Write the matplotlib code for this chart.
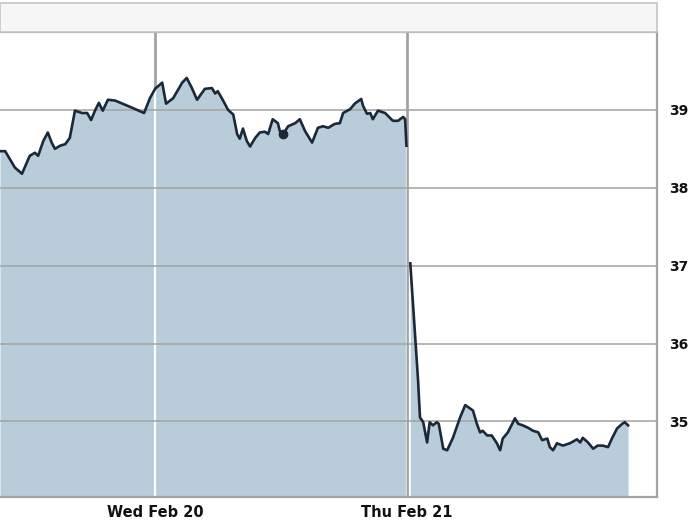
import matplotlib
matplotlib.use("Agg")
import matplotlib.pyplot as plt
from matplotlib.patches import Rectangle

# Trading minutes since Feb 19 open (Feb 20 open = 390, Feb 21 open = 780)
t_a = [150, 158, 173, 184, 196, 204, 209, 217, 224, 230, 235, 243, 251, 258, 266, 277,
       285, 291, 297, 303, 309, 317, 328, 351, 373, 382, 390, 401, 407, 418, 432, 439,
       447, 455, 467, 478, 483, 487, 494, 503, 511, 517, 521, 526, 532, 537, 545, 552,
       560, 565, 572, 580, 583, 588, 596, 607, 614, 622, 633, 642, 650, 658, 668, 676,
       681, 692, 699, 709, 712, 718, 723, 727, 735, 746, 758, 766, 774, 777, 779]
p_a = [38.47, 38.47, 38.26, 38.18, 38.41, 38.45, 38.41, 38.60, 38.71, 38.58, 38.50, 38.54,
       38.56, 38.64, 38.99, 38.96, 38.96, 38.87, 38.99, 39.09, 38.99, 39.13, 39.12, 39.04,
       38.96, 39.15, 39.27, 39.35, 39.08, 39.15, 39.35, 39.41, 39.28, 39.13, 39.27, 39.28,
       39.21, 39.24, 39.14, 39.00, 38.94, 38.69, 38.63, 38.76, 38.60, 38.53, 38.64, 38.71,
       38.72, 38.69, 38.88, 38.83, 38.73, 38.69, 38.79, 38.83, 38.88, 38.73, 38.58, 38.77,
       38.79, 38.77, 38.82, 38.83, 38.96, 39.01, 39.08, 39.14, 39.05, 38.95, 38.96, 38.88,
       38.99, 38.96, 38.86, 38.86, 38.91, 38.88, 38.54]

t_b = [785, 797, 800, 805, 811, 815, 820, 826, 829, 836, 842, 851, 862, 870, 877, 882,
       888, 893, 897, 904, 911, 919, 924, 928, 936, 947, 952, 959, 967, 975, 983, 989,
       997, 1001, 1006, 1012, 1021, 1032, 1043, 1048, 1052, 1060, 1068, 1075, 1083, 1091,
       1097, 1105, 1113, 1117, 1122]
p_b = [37.03, 35.53, 35.05, 34.99, 34.73, 34.99, 34.95, 34.99, 34.97, 34.65, 34.63, 34.79,
       35.05, 35.21, 35.17, 35.14, 34.97, 34.86, 34.88, 34.82, 34.82, 34.72, 34.63, 34.78,
       34.86, 35.04, 34.97, 34.95, 34.92, 34.88, 34.86, 34.76, 34.78, 34.67, 34.63, 34.72,
       34.69, 34.72, 34.77, 34.73, 34.79, 34.73, 34.65, 34.69, 34.69, 34.67, 34.78, 34.91,
       34.97, 34.99, 34.95]

marker_t = [588]
marker_p = [38.69]

day_starts = [390, 780]
day_labels = ["Wed Feb 20", "Thu Feb 21"]
y_ticks = [35, 36, 37, 38, 39]
y_tick_labels = ["35", "36", "37", "38", "39"]

fill_color = "#b9ccda"
line_color = "#1b2838"
grid_color = "#a3a3a3"

fig = plt.figure(figsize=(7, 5.25), dpi=100)
fig.patch.set_facecolor("white")

W, H = 700, 525
ax = fig.add_axes([0, (H - 497) / H, 657 / W, (497 - 32) / H])
ax.set_facecolor("white")

ymin, ymax = 34.03, 40.0
xmin, xmax = 150, 1166.8

# header band above plot
fig.patches.append(Rectangle((0, (H - 32) / H), 657 / W, 29 / H, transform=fig.transFigure,
                             facecolor="#f6f6f6", edgecolor="#c4c4c4", lw=1.2, zorder=0))

# vertical day lines (gray)
for d in day_starts:
    ax.axvline(d, color=grid_color, lw=2.0, zorder=1)

fills = []
for tt, pp in [(t_a, p_a), (t_b, p_b)]:
    f = ax.fill_between(tt, pp, ymin, color=fill_color, lw=0, zorder=2)
    fills.append(f)

# white day lines inside filled area
for f in fills:
    path = f.get_paths()[0]
    for d in day_starts:
        l = ax.axvline(d, color="white", lw=1.6, zorder=3)
        l.set_clip_path(path, ax.transData)

# horizontal gridlines
for y in y_ticks:
    ax.axhline(y, color=grid_color, lw=1.4, alpha=0.8, zorder=4)

ax.plot(t_a, p_a, color=line_color, lw=1.9, zorder=5, solid_joinstyle="round")
ax.plot(t_b, p_b, color=line_color, lw=1.9, zorder=5, solid_joinstyle="round")
ax.plot(marker_t, marker_p, "o", color=line_color, ms=6, zorder=6)

ax.set_xlim(xmin, xmax)
ax.set_ylim(ymin, ymax)

for s in ["left"]:
    ax.spines[s].set_visible(False)
for s in ["top", "right", "bottom"]:
    ax.spines[s].set_color(grid_color)
    ax.spines[s].set_linewidth(1.6)
    ax.spines[s].set_zorder(7)

ax.yaxis.tick_right()
ax.set_yticks(y_ticks)
ax.set_yticklabels(y_tick_labels, fontsize=10, fontweight="bold", color="#111111")
ax.tick_params(axis="y", length=0, pad=9)

ax.set_xticks(day_starts)
ax.set_xticklabels(day_labels, fontsize=10.5, fontweight="bold", color="#111111")
ax.tick_params(axis="x", length=0, pad=6)

fig.savefig("out.png", dpi=100)
